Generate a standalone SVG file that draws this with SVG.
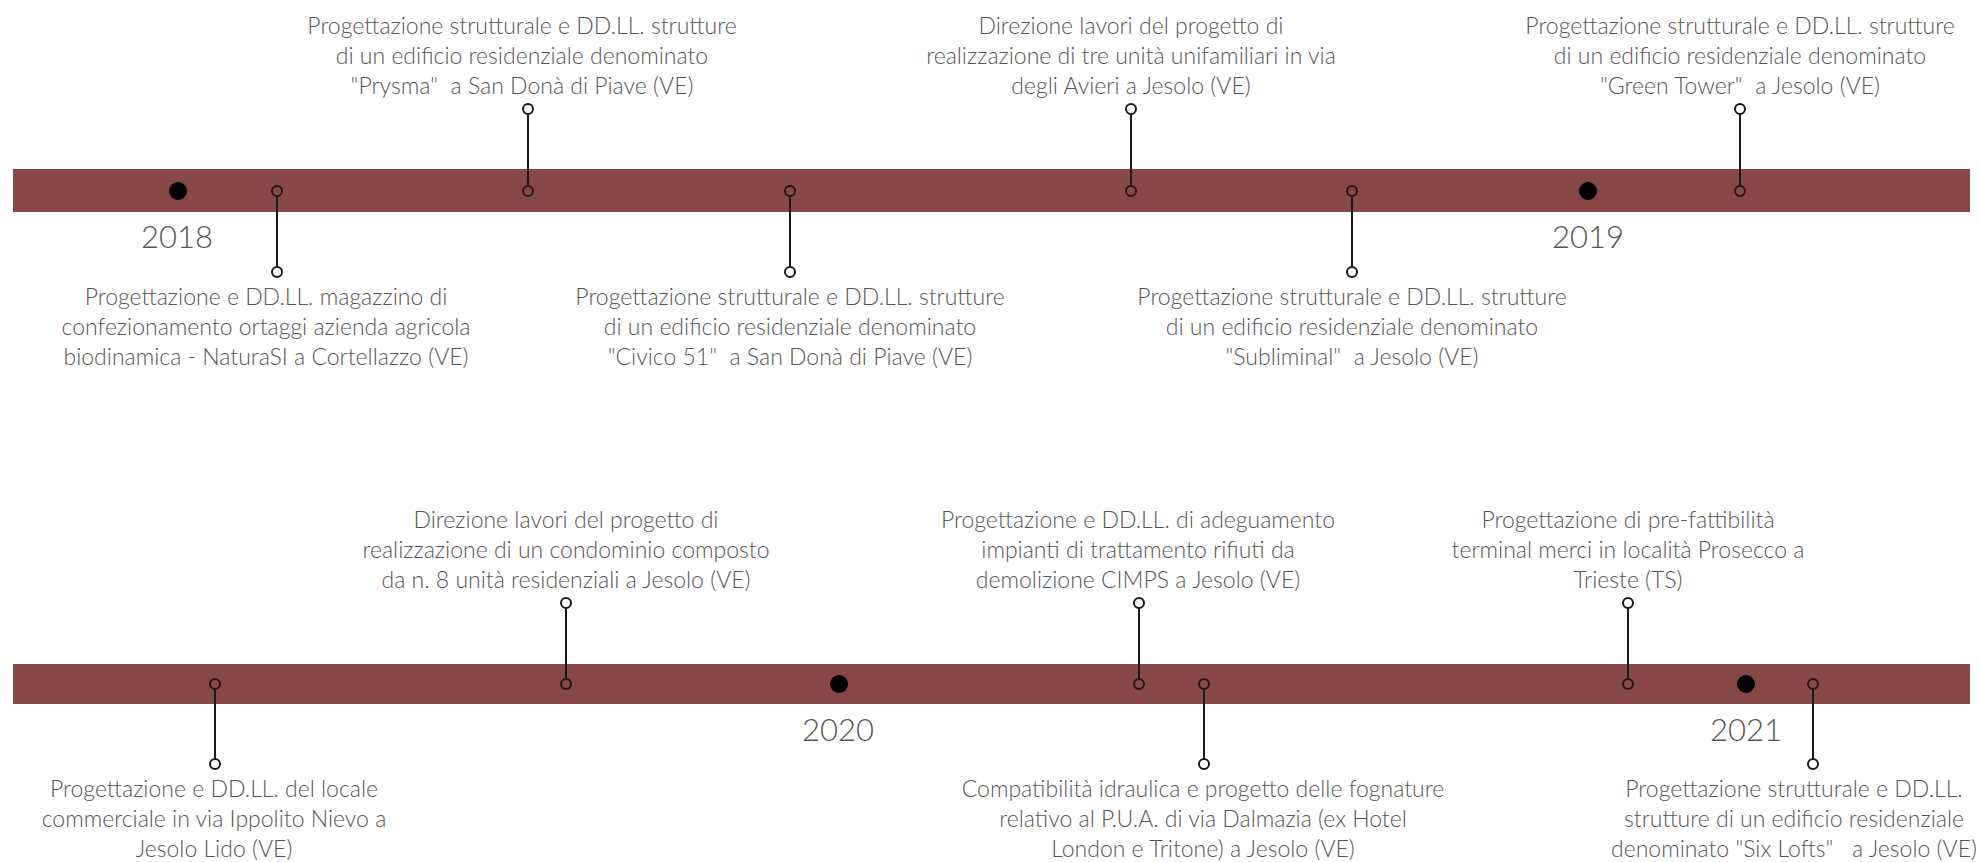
<svg xmlns="http://www.w3.org/2000/svg" width="1982" height="862" viewBox="0 0 1982 862">
<style>
.bg{fill:#fff}
.bar{fill:#884848}
.dot{fill:#000}
.stem{stroke:#1a1a1a;stroke-width:2;fill:none}
.pin{fill:#fff;stroke:#1a1a1a;stroke-width:2}
.pinbar{fill:#884848;stroke:#2a1515;stroke-width:2}
.t{font-family:Lato,"Open Sans","Liberation Sans",sans-serif;font-weight:300;font-size:23px;fill:#555;text-anchor:middle;white-space:pre}
.yr{font-family:Lato,"Open Sans","Liberation Sans",sans-serif;font-weight:300;font-size:31px;fill:#555;text-anchor:middle}
</style>
<rect class="bg" x="0" y="0" width="1982" height="862"/>
<g id="timeline-bars">
<rect class="bar" x="13" y="169" width="1957" height="43"/>
<rect class="bar" x="13" y="664" width="1957" height="40"/>
</g>
<g id="connectors">
<line class="stem" x1="277" y1="191" x2="277" y2="272"/>
<line class="stem" x1="528" y1="191" x2="528" y2="109"/>
<line class="stem" x1="790" y1="191" x2="790" y2="272"/>
<line class="stem" x1="1131" y1="191" x2="1131" y2="109"/>
<line class="stem" x1="1352" y1="191" x2="1352" y2="272"/>
<line class="stem" x1="1740" y1="191" x2="1740" y2="109"/>
<line class="stem" x1="215" y1="684" x2="215" y2="764"/>
<line class="stem" x1="566" y1="684" x2="566" y2="603"/>
<line class="stem" x1="1139" y1="684" x2="1139" y2="603"/>
<line class="stem" x1="1204" y1="684" x2="1204" y2="764"/>
<line class="stem" x1="1628" y1="684" x2="1628" y2="603"/>
<line class="stem" x1="1813" y1="684" x2="1813" y2="764"/>
</g>
<g id="year-2018"><circle class="dot" cx="178" cy="191" r="9"/><text class="yr" x="177" y="248">2018</text></g>
<g id="year-2019"><circle class="dot" cx="1588" cy="191" r="9"/><text class="yr" x="1588" y="248">2019</text></g>
<g id="year-2020"><circle class="dot" cx="839" cy="684" r="9"/><text class="yr" x="838" y="741">2020</text></g>
<g id="year-2021"><circle class="dot" cx="1746" cy="684" r="9"/><text class="yr" x="1746" y="741">2021</text></g>
<g id="event-a">
<circle class="pinbar" cx="277" cy="191" r="5"/><circle class="pin" cx="277" cy="272" r="5"/>
<text class="t" x="266" y="305">Progettazione e DD.LL. magazzino di</text>
<text class="t" x="266" y="335">confezionamento ortaggi azienda agricola</text>
<text class="t" x="266" y="365">biodinamica - NaturaSI a Cortellazzo (VE)</text>
</g>
<g id="event-b">
<circle class="pinbar" cx="528" cy="191" r="5"/><circle class="pin" cx="528" cy="109" r="5"/>
<text class="t" x="522" y="34">Progettazione strutturale e DD.LL. strutture</text>
<text class="t" x="522" y="64">di un edificio residenziale denominato</text>
<text class="t" x="522" y="94">"Prysma"  a San Donà di Piave (VE)</text>
</g>
<g id="event-c">
<circle class="pinbar" cx="790" cy="191" r="5"/><circle class="pin" cx="790" cy="272" r="5"/>
<text class="t" x="790" y="305">Progettazione strutturale e DD.LL. strutture</text>
<text class="t" x="790" y="335">di un edificio residenziale denominato</text>
<text class="t" x="790" y="365">"Civico 51"  a San Donà di Piave (VE)</text>
</g>
<g id="event-d">
<circle class="pinbar" cx="1131" cy="191" r="5"/><circle class="pin" cx="1131" cy="109" r="5"/>
<text class="t" x="1131" y="34">Direzione lavori del progetto di</text>
<text class="t" x="1131" y="64">realizzazione di tre unità unifamiliari in via</text>
<text class="t" x="1131" y="94">degli Avieri a Jesolo (VE)</text>
</g>
<g id="event-e">
<circle class="pinbar" cx="1352" cy="191" r="5"/><circle class="pin" cx="1352" cy="272" r="5"/>
<text class="t" x="1352" y="305">Progettazione strutturale e DD.LL. strutture</text>
<text class="t" x="1352" y="335">di un edificio residenziale denominato</text>
<text class="t" x="1352" y="365">"Subliminal"  a Jesolo (VE)</text>
</g>
<g id="event-f">
<circle class="pinbar" cx="1740" cy="191" r="5"/><circle class="pin" cx="1740" cy="109" r="5"/>
<text class="t" x="1740" y="34">Progettazione strutturale e DD.LL. strutture</text>
<text class="t" x="1740" y="64">di un edificio residenziale denominato</text>
<text class="t" x="1740" y="94">"Green Tower"  a Jesolo (VE)</text>
</g>
<g id="event-g">
<circle class="pinbar" cx="215" cy="684" r="5"/><circle class="pin" cx="215" cy="764" r="5"/>
<text class="t" x="214" y="797">Progettazione e DD.LL. del locale</text>
<text class="t" x="214" y="827">commerciale in via Ippolito Nievo a</text>
<text class="t" x="214" y="857">Jesolo Lido (VE)</text>
</g>
<g id="event-h">
<circle class="pinbar" cx="566" cy="684" r="5"/><circle class="pin" cx="566" cy="603" r="5"/>
<text class="t" x="566" y="528">Direzione lavori del progetto di</text>
<text class="t" x="566" y="558">realizzazione di un condominio composto</text>
<text class="t" x="566" y="588">da n. 8 unità residenziali a Jesolo (VE)</text>
</g>
<g id="event-i">
<circle class="pinbar" cx="1139" cy="684" r="5"/><circle class="pin" cx="1139" cy="603" r="5"/>
<text class="t" x="1138" y="528">Progettazione e DD.LL. di adeguamento</text>
<text class="t" x="1138" y="558">impianti di trattamento rifiuti da</text>
<text class="t" x="1138" y="588">demolizione CIMPS a Jesolo (VE)</text>
</g>
<g id="event-j">
<circle class="pinbar" cx="1204" cy="684" r="5"/><circle class="pin" cx="1204" cy="764" r="5"/>
<text class="t" x="1203" y="797">Compatibilità idraulica e progetto delle fognature</text>
<text class="t" x="1203" y="827">relativo al P.U.A. di via Dalmazia (ex Hotel</text>
<text class="t" x="1203" y="857">London e Tritone) a Jesolo (VE)</text>
</g>
<g id="event-k">
<circle class="pinbar" cx="1628" cy="684" r="5"/><circle class="pin" cx="1628" cy="603" r="5"/>
<text class="t" x="1628" y="528">Progettazione di pre-fattibilità</text>
<text class="t" x="1628" y="558">terminal merci in località Prosecco a</text>
<text class="t" x="1628" y="588">Trieste (TS)</text>
</g>
<g id="event-l">
<circle class="pinbar" cx="1813" cy="684" r="5"/><circle class="pin" cx="1813" cy="764" r="5"/>
<text class="t" x="1794" y="797">Progettazione strutturale e DD.LL.</text>
<text class="t" x="1794" y="827">strutture di un edificio residenziale</text>
<text class="t" x="1794" y="857">denominato "Six Lofts"   a Jesolo (VE)</text>
</g>
</svg>
